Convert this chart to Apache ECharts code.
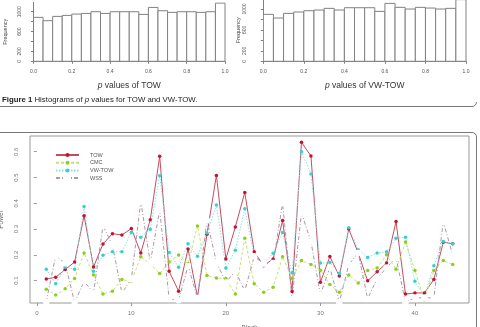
<!DOCTYPE html>
<html><head><meta charset="utf-8">
<script src="https://cdn.jsdelivr.net/npm/echarts@6/dist/echarts.min.js"></script>
<style>html,body{margin:0;padding:0;background:#fff}#c{width:480px;height:327px}</style>
</head><body><div id="c"></div>
<script>
// ---------- Histogram data ----------
const binEdges = [0,0.05,0.1,0.15,0.2,0.25,0.3,0.35,0.4,0.45,0.5,0.55,0.6,0.65,0.7,0.75,0.8,0.85,0.9,0.95,1.0];
const towFreq = [886,819,906,926,953,966,1000,966,1000,1000,1000,946,1087,1020,987,1000,1000,987,1000,1174];
const vwFreq  = [898,828,917,943,968,981,1013,981,1025,1025,1025,955,1108,1032,1000,1032,1019,1000,1013,1180];
const histXTicks = [0,0.2,0.4,0.6,0.8,1.0];
const histYTicks = [0,200,400,600,800,1000];
const histYLabels = [0,200,600,1000];

// ---------- Power line chart data ----------
const blocks = [1,2,3,4,5,6,7,8,9,10,11,12,13,14,15,16,17,18,19,20,21,22,23,24,25,26,27,28,29,30,31,32,33,34,35,36,37,38,39,40,41,42,43,44];
const tow   = [0.106,0.113,0.143,0.172,0.352,0.153,0.242,0.282,0.277,0.302,0.207,0.336,0.582,0.136,0.059,0.223,0.037,0.280,0.508,0.184,0.308,0.442,0.212,0.158,0.184,0.333,0.058,0.637,0.583,0.094,0.193,0.118,0.300,0.207,0.099,0.134,0.168,0.329,0.048,0.052,0.052,0.104,0.249,0.243];
const cmc   = [0.066,0.044,0.068,0.108,0.207,0.122,0.048,0.059,0.104,0.097,0.192,0.165,0.127,0.172,0.199,0.166,0.312,0.120,0.110,0.108,0.048,0.264,0.088,0.055,0.074,0.192,0.108,0.178,0.162,0.140,0.085,0.055,0.122,0.091,0.139,0.149,0.200,0.144,0.250,0.139,0.026,0.139,0.178,0.162];
const vwtow = [0.144,0.088,0.152,0.144,0.387,0.136,0.198,0.212,0.212,0.287,0.268,0.299,0.507,0.209,0.152,0.243,0.194,0.285,0.393,0.149,0.218,0.379,0.194,0.167,0.206,0.287,0.130,0.600,0.514,0.168,0.170,0.127,0.305,0.220,0.190,0.207,0.212,0.264,0.268,0.097,0.039,0.158,0.252,0.243];
const wss   = [0.017,0.197,0.167,0.015,0.097,0.052,0.313,0.237,0.052,0.105,0.407,0.170,0.373,0.029,0.024,0.157,0.032,0.333,0.172,0.093,0.137,0.060,0.194,0.165,0.168,0.400,0.029,0.363,0.252,0.046,0.150,0.016,0.162,0.207,0.029,0.108,0.150,0.189,0.016,0.033,0.033,0.033,0.329,0.198];
const seriesNames = ['TOW','CMC','VW-TOW','WSS'];
const lineXTicks = [0,10,20,30,40];
const lineYTicks = [0.1,0.2,0.3,0.4,0.5,0.6];

const histData = f => f.map((v,i)=>[binEdges[i], binEdges[i+1], v]);
function histRender(params, api){
  const p0 = api.coord([api.value(0), 0]);
  const p1 = api.coord([api.value(1), api.value(2)]);
  return {type:'rect', shape:{x:p0[0], y:p1[1], width:p1[0]-p0[0], height:p0[1]-p1[1]},
          style:{fill:'#fff', stroke:'#808080', lineWidth:1}};
}
const axCol = '#808080';
function histX(grid, name){
  return {gridIndex:grid, type:'value', min:0, max:1, offset:2.5,
    axisLine:{lineStyle:{color:axCol}},
    axisTick:{customValues:histXTicks, length:2.5, lineStyle:{color:axCol}},
    axisLabel:{customValues:histXTicks, formatter:v=>v.toFixed(1), fontSize:5, color:'#555', margin:5},
    splitLine:{show:false},
    name:name, nameLocation:'middle', nameGap:17,
    nameTextStyle:{fontSize:8.5, color:'#333', fontFamily:'Liberation Sans', rich:{i:{fontStyle:'italic', fontSize:8.5, color:'#333'}}}};
}
function histY(grid, offset, margin, gap){
  return {gridIndex:grid, type:'value', min:0, max:1190, offset:offset,
    axisLine:{show:true, lineStyle:{color:axCol}},
    axisTick:{show:true, customValues:histYTicks, length:2.5, lineStyle:{color:axCol}},
    axisLabel:{customValues:histYLabels, formatter:v=>String(v), rotate:90, fontSize:5, color:'#555', margin:margin},
    splitLine:{show:false},
    name:'Frequency', nameLocation:'middle', nameGap:gap,
    nameTextStyle:{fontSize:5.5, color:'#444'}};
}

const chart = echarts.init(document.getElementById('c'), null, {renderer:'canvas'});
const lineCols = {TOW:['#c24c60','#c8102e'], CMC:['#c4e27a','#8ccf1e'], 'VW-TOW':['#86e2e2','#36d0d0'], WSS:['#a898a8','#999']};
const lineData = [tow, cmc, vwtow, wss];
const dashes = ['solid',[3,2],[1.5,1.5],[4,2,1,2]];

chart.setOption({
  animation:false,
  textStyle:{fontFamily:'Liberation Sans'},
  grid:[
    {left:33.5, top:2.3, width:191.5, height:59, outerBoundsMode:'none', containLabel:false},
    {left:263.3, top:-0.9, width:202.7, height:62.2, outerBoundsMode:'none', containLabel:false},
    {left:30, top:136, width:439, height:167, show:true, borderColor:'#999', borderWidth:1, outerBoundsMode:'none', containLabel:false}
  ],
  xAxis:[
    histX(0,'{i|p} values of TOW'),
    histX(1,'{i|p} values of VW-TOW'),
    {gridIndex:2, type:'value', min:-0.72, max:45.72,
     axisLine:{show:false},
     axisTick:{show:true, customValues:lineXTicks, length:3, lineStyle:{color:'#999'}},
     axisLabel:{customValues:lineXTicks, fontSize:6, color:'#777', margin:7},
     splitLine:{show:false},
     name:'Block', nameLocation:'middle', nameGap:22, nameTextStyle:{fontSize:6.5, color:'#666'}}
  ],
  yAxis:[
    histY(0, 7.7, 3.5, 17),
    histY(1, 9.3, 6.5, 12.5),
    {gridIndex:2, type:'value', min:0.013, max:0.661,
     axisLine:{show:false},
     axisTick:{show:true, customValues:lineYTicks, length:3, lineStyle:{color:'#999'}},
     axisLabel:{customValues:lineYTicks, formatter:v=>v.toFixed(1), rotate:90, fontSize:6, color:'#777', margin:11},
     splitLine:{show:false},
     name:'Power', nameLocation:'middle', nameGap:19, nameTextStyle:{fontSize:6.5, color:'#666'}}
  ],
  legend:{orient:'vertical', left:50, top:147, itemWidth:23, itemHeight:5, itemGap:1.7,
    data:seriesNames, textStyle:{fontSize:5.5, color:'#555', padding:[0,0,0,6]}},
  series:[
    {type:'custom', xAxisIndex:0, yAxisIndex:0, renderItem:histRender, encode:{x:[0,1], y:2}, data:histData(towFreq), clip:true},
    {type:'custom', xAxisIndex:1, yAxisIndex:1, renderItem:histRender, encode:{x:[0,1], y:2}, data:histData(vwFreq), clip:true},
    ...seriesNames.map((n,k)=>({
      type:'line', name:n, xAxisIndex:2, yAxisIndex:2,
      data:blocks.map((b,i)=>[b, lineData[k][i]]),
      symbol: n==='WSS' ? 'emptyCircle' : 'circle',
      symbolSize: n==='WSS' ? 4.5 : 3.5,
      showAllSymbol:true, clip:true,
      lineStyle:{color:lineCols[n][0], width:1, type:dashes[k]},
      itemStyle: n==='WSS' ? {color:'#fff', borderColor:'#999', borderWidth:1} : {color:lineCols[n][1], borderWidth:0}
    }))
  ],
  graphic:[
    {type:'text', x:2, y:96, style:{
      text:'{b|Figure 1} Histograms of {i|p} values for TOW and VW-TOW.',
      fontSize:7.8, fill:'#222', fontFamily:'Liberation Sans',
      rich:{b:{fontWeight:'bold', fontSize:7.8, fill:'#222'}, i:{fontStyle:'italic', fontSize:7.8, fill:'#222'}}}},
    {type:'polyline', shape:{points:[[0,106.5],[472,106.5]]}, style:{stroke:'#555', lineWidth:0.8, fill:null}},
    {type:'arc', shape:{cx:472, cy:102, r:4.5, startAngle:0, endAngle:Math.PI/2, clockwise:true}, style:{stroke:'#555', lineWidth:0.8, fill:null}},
    {type:'polyline', shape:{points:[[0,132.5],[472,132.5]]}, style:{stroke:'#555', lineWidth:0.8, fill:null}},
    {type:'arc', shape:{cx:472, cy:137, r:4.5, startAngle:-Math.PI/2, endAngle:0, clockwise:true}, style:{stroke:'#555', lineWidth:0.8, fill:null}},
    {type:'polyline', shape:{points:[[476.5,137],[476.5,327]]}, style:{stroke:'#555', lineWidth:0.8, fill:null}}
  ]
});
</script></body></html>
